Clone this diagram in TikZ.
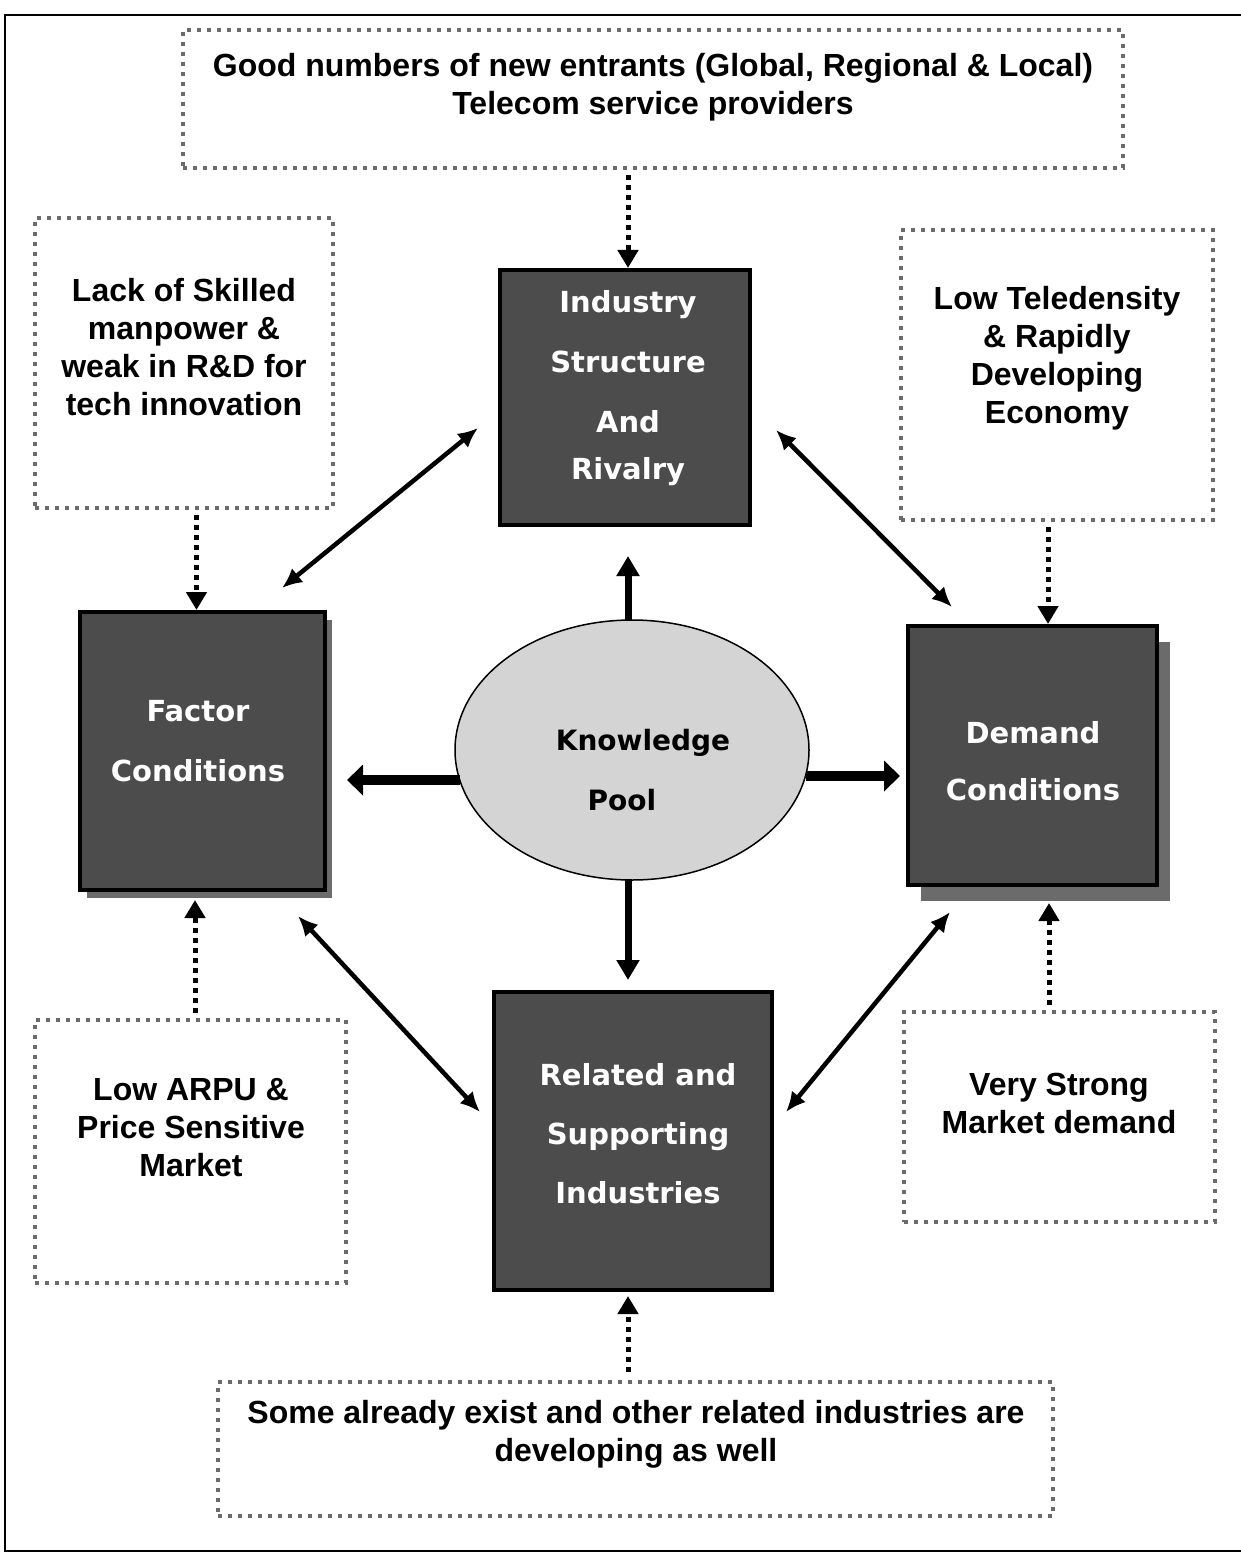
\documentclass[tikz,border=0pt]{standalone}
\usepackage{fontspec}
\setmainfont{Liberation Sans}
\newfontfamily\dvfont{DejaVu Sans}
\usetikzlibrary{arrows.meta,shapes.geometric,calc}
\begin{document}
\begin{tikzpicture}[x=1pt,y=-1pt,
  dotbox/.style={draw=black!58, line width=4pt, dash pattern=on 4pt off 6pt, inner sep=0pt, rectangle},
  outtext/.style={font=\fontsize{32}{38}\selectfont\bfseries, align=center, inner sep=0pt},
  darkbox/.style={draw=black, line width=4pt, fill=black!70, inner sep=0pt, rectangle},
  shadowbox/.style={fill=black!58, draw=none, inner sep=0pt, rectangle},
  darktext/.style={text=white, font=\dvfont\fontsize{29}{60}\selectfont\bfseries, align=center, inner sep=0pt},
  pooltext/.style={text=black, font=\dvfont\fontsize{28}{60}\selectfont\bfseries, align=center, inner sep=0pt},
  dotarrow/.style={line width=5pt, dash pattern=on 5pt off 5pt, -{Triangle[length=18pt,width=20pt]}},
  twoway/.style={line width=4.5pt, {Latex[length=20pt,width=18pt,fill=black]}-{Latex[length=20pt,width=18pt,fill=black]}},
  fatarrow/.style={line width=10pt, -{Triangle[length=16pt,width=30pt]}},
  midarrow/.style={line width=7pt, -{Triangle[length=20pt,width=22pt]}}
]
\useasboundingbox (0,0) rectangle (1241,1554);
\fill[white] (0,0) rectangle (1241,1554);
\draw[line width=2pt] (5,15) rectangle (1246,1551);

% dotted outer boxes
\node[dotbox, minimum width=940pt, minimum height=138pt] (top) at (653,99) {};
\node[outtext] (topT) at (653,87) {Good numbers of new entrants (Global, Regional \& Local)\\Telecom service providers};
\node[dotbox, minimum width=298pt, minimum height=290pt] (tl) at (184,363) {};
\node[outtext] (tlT) at (184,347) {Lack of Skilled\\manpower \&\\weak in R\&D for\\tech innovation};
\node[dotbox, minimum width=312pt, minimum height=290pt] (tr) at (1057,375) {};
\node[outtext] (trT) at (1057,358) {Low Teledensity\\\& Rapidly\\Developing\\Economy};
\node[dotbox, minimum width=311pt, minimum height=263pt] (bl) at (190.5,1151.5) {};
\node[outtext] (blT) at (191,1128) {Low ARPU \&\\Price Sensitive\\Market};
\node[dotbox, minimum width=311pt, minimum height=210pt] (br) at (1059.5,1117) {};
\node[outtext] (brT) at (1059,1103) {Very Strong\\Market demand};
\node[dotbox, minimum width=835pt, minimum height=134pt] (bot) at (635.5,1449) {};
\node[outtext] (botT) at (636,1434) {Some already exist and other related industries are\\developing as well};

% dark boxes with shadows
\node[shadowbox, minimum width=245pt, minimum height=278pt] (facS) at (209,759) {};
\node[darkbox, minimum width=245pt, minimum height=278pt] (fac) at (202.5,751) {};
\node[darktext] (facT) at (198,741) {Factor\\Conditions};

\node[shadowbox, minimum width=249pt, minimum height=259pt] (demS) at (1045,771) {};
\node[darkbox, minimum width=249pt, minimum height=259pt] (dem) at (1032.5,755.5) {};
\node[darktext, font=\dvfont\fontsize{29}{57}\selectfont\bfseries] (demT) at (1033,761) {Demand\\Conditions};

\node[darkbox, minimum width=250pt, minimum height=255pt] (ind) at (625,397.5) {};
\node[darktext] (indT) at (628,388) {Industry\\Structure\\And\hspace*{20pt}\\[-13pt]Rivalry};

\node[darkbox, minimum width=278pt, minimum height=298pt] (rel) at (633,1141) {};
\node[darktext, font=\dvfont\fontsize{29}{59}\selectfont\bfseries] (relT) at (638,1134) {Related and\\Supporting\\Industries};

% knowledge pool
\node[ellipse, draw=black, line width=1.5pt, fill=black!17, minimum width=354pt, minimum height=260pt, inner sep=0pt] (kp) at (632,750) {};
\node[pooltext] (kpT) at (633,770) {\hspace*{20pt}Knowledge\\Pool\hspace*{22pt}};

% thick arrows from the pool
\draw[fatarrow] ($(kp.center)+(-172,30)$) -- ($(fac.east)+(20,29)$);
\draw[fatarrow] ($(kp.center)+(174,26)$) -- ($(dem.west)+(-6,20.5)$);
\draw[midarrow] ($(kp.north)+(-4,2)$) -- ($(ind.south)+(3,29)$);
\draw[midarrow] ($(kp.south)+(-4,-2)$) -- ($(rel.north)+(-5,-10)$);

% two-way diagonal arrows
\coordinate (c1a) at (282,588); \coordinate (c1b) at (478,428);
\coordinate (c2a) at (776,430); \coordinate (c2b) at (952,607);
\coordinate (c3a) at (298,916); \coordinate (c3b) at (480,1112);
\coordinate (c4a) at (950,912); \coordinate (c4b) at (786,1112);
\draw[twoway] (c1a) -- (c1b);
\draw[twoway] (c2a) -- (c2b);
\draw[twoway] (c3a) -- (c3b);
\draw[twoway] (c4a) -- (c4b);

% dotted arrows
\draw[dotarrow, shorten <=5pt] ([xshift=3pt]ind.north |- top.south) -- ([xshift=3pt]ind.north);
\draw[dotarrow, shorten <=5pt] ([xshift=-6pt]fac.north |- tl.south) -- ([xshift=-6pt]fac.north);
\draw[dotarrow, shorten <=5pt] ([xshift=15.5pt]dem.north |- tr.south) -- ([xshift=15.5pt]dem.north);
\draw[dotarrow, shorten <=5pt] ([xshift=-7.5pt]fac.south |- bl.north) -- ($(fac.south)+(-7.5,8)$);
\draw[dotarrow, shorten <=5pt] ([xshift=16.5pt]dem.south |- br.north) -- ($(dem.south)+(16.5,16)$);
\draw[dotarrow, shorten <=8pt] ([xshift=-5pt]rel.south |- bot.north) -- ($(rel.south)+(-5,4)$);
\end{tikzpicture}
\end{document}
